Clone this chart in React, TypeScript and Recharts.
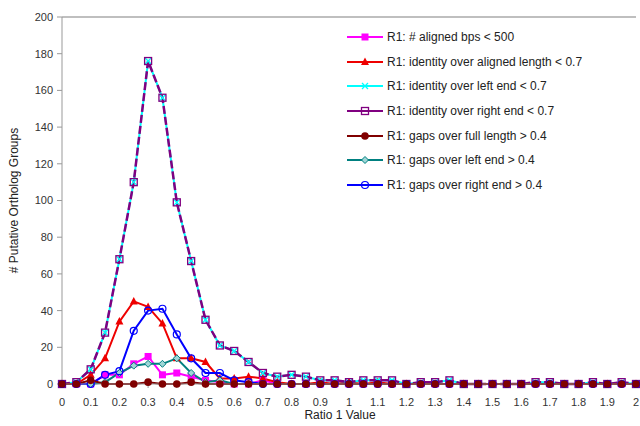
import React from "react";
import {
  LineChart,
  Line,
  XAxis,
  YAxis,
  ReferenceLine,
  Label,
} from "recharts";

// ratio bins (x) and counts per filter
const ratios = [
  0, 0.05, 0.1, 0.15, 0.2, 0.25, 0.3, 0.35, 0.4, 0.45, 0.5, 0.55, 0.6, 0.65, 0.7,
  0.75, 0.8, 0.85, 0.9, 0.95, 1, 1.05, 1.1, 1.15, 1.2, 1.25, 1.3, 1.35, 1.4, 1.45,
  1.5, 1.55, 1.6, 1.65, 1.7, 1.75, 1.8, 1.85, 1.9, 1.95, 2,
];
const alignedBps = [
  0, 0, 0, 5, 5, 11, 15, 5, 6, 4, 2, 1, 0, 0, 2, 0, 0, 0, 0, 0, 0, 0, 0, 0, 0, 0,
  0, 0, 0, 0, 0, 0, 0, 0, 0, 0, 0, 0, 0, 0, 0,
];
const identityAligned = [
  0, 0, 5, 14, 34, 45, 42, 33, 14, 14, 12, 3, 3, 4, 3, 1, 0, 0, 1, 0, 1, 0, 1, 0, 0,
  0, 0, 0, 0, 0, 0, 0, 0, 0, 0, 0, 0, 0, 0, 0, 0,
];
const identityLeft = [
  0, 1, 8, 28, 68, 110, 176, 156, 99, 67, 35, 21, 18, 12, 6, 4, 5, 4, 2, 2, 1, 2, 2,
  2, 0, 1, 1, 2, 0, 0, 0, 0, 0, 1, 1, 0, 0, 1, 0, 1, 0,
];
const identityRight = [
  0, 1, 8, 28, 68, 110, 176, 156, 99, 67, 35, 21, 18, 12, 6, 4, 5, 4, 2, 2, 1, 2, 2,
  2, 0, 1, 1, 2, 0, 0, 0, 0, 0, 1, 1, 0, 0, 1, 0, 1, 0,
];
const gapsFull = [
  0, 0, 2, 0, 0, 0, 1, 0, 0, 1, 0, 0, 0, 0, 0, 0, 0, 0, 0, 0, 0, 0, 0, 0, 0, 0, 0,
  0, 0, 0, 0, 0, 0, 0, 0, 0, 0, 0, 0, 0, 0,
];
const gapsLeft = [
  0, 0, 0, 1, 6, 10, 11, 11, 14, 6, 1, 2, 0, 0, 0, 0, 0, 0, 0, 0, 0, 0, 0, 0, 0, 0,
  0, 0, 0, 0, 0, 0, 0, 0, 0, 0, 0, 0, 0, 0, 0,
];
const gapsRight = [
  0, 0, 0, 5, 7, 29, 40, 41, 27, 14, 6, 6, 2, 1, 0, 0, 0, 0, 0, 0, 0, 0, 0, 0, 0, 0,
  0, 0, 0, 0, 0, 0, 0, 0, 0, 0, 0, 0, 0, 0, 0,
];

const xTicks = [
  0, 0.1, 0.2, 0.3, 0.4, 0.5, 0.6, 0.7, 0.8, 0.9, 1, 1.1, 1.2, 1.3, 1.4, 1.5, 1.6,
  1.7, 1.8, 1.9, 2,
];
const yTicks = [0, 20, 40, 60, 80, 100, 120, 140, 160, 180, 200];

const data = ratios.map((r, i) => ({
  ratio: r,
  bps: alignedBps[i],
  idAligned: identityAligned[i],
  idLeft: identityLeft[i],
  idRight: identityRight[i],
  gFull: gapsFull[i],
  gLeft: gapsLeft[i],
  gRight: gapsRight[i],
}));

// legend order
const series = [
  { key: "bps", name: "R1: # aligned bps < 500", color: "#ff00ff", shape: "square" },
  { key: "idAligned", name: "R1: identity over aligned length < 0.7", color: "#ee0000", shape: "triangle" },
  { key: "idLeft", name: "R1: identity over left end < 0.7", color: "#00ffff", shape: "x" },
  { key: "idRight", name: "R1: identity over right end < 0.7", color: "#800080", shape: "openSquare", dash: "8 3" },
  { key: "gFull", name: "R1: gaps over full length > 0.4", color: "#800000", shape: "circle" },
  { key: "gLeft", name: "R1: gaps over left end > 0.4", color: "#008080", shape: "diamond" },
  { key: "gRight", name: "R1: gaps over right end > 0.4", color: "#0000ff", shape: "openCircle" },
];

// drawing order (dark red dots on top)
const drawOrder = ["bps", "idAligned", "idLeft", "idRight", "gLeft", "gRight", "gFull"];

const FONT = '"Liberation Sans", Arial, sans-serif';

const Marker = ({ cx, cy, shape, color }: any) => {
  if (cx == null || cy == null) return null;
  switch (shape) {
    case "square":
      return <rect x={cx - 3.5} y={cy - 3.5} width={7} height={7} fill={color} />;
    case "openSquare":
      return (
        <rect x={cx - 3.5} y={cy - 3.5} width={7} height={7} fill="none" stroke={color} strokeWidth={1.3} />
      );
    case "triangle":
      return (
        <polygon
          points={`${cx},${cy - 4.5} ${cx + 4},${cy + 3} ${cx - 4},${cy + 3}`}
          fill={color}
        />
      );
    case "x":
      return (
        <path
          d={`M${cx - 3},${cy - 3}L${cx + 3},${cy + 3}M${cx + 3},${cy - 3}L${cx - 3},${cy + 3}`}
          stroke={color}
          strokeWidth={1.3}
        />
      );
    case "circle":
      return <circle cx={cx} cy={cy} r={3.8} fill={color} />;
    case "diamond":
      return (
        <polygon
          points={`${cx},${cy - 3.5} ${cx + 3.5},${cy} ${cx},${cy + 3.5} ${cx - 3.5},${cy}`}
          fill="#9fd6d6"
          stroke={color}
          strokeWidth={1}
        />
      );
    case "openCircle":
      return <circle cx={cx} cy={cy} r={3.5} fill="none" stroke={color} strokeWidth={1.2} />;
  }
  return null;
};

const LegendBox = () => (
  <div
    style={{
      position: "absolute",
      left: 347,
      top: 25,
      fontFamily: FONT,
      fontSize: 12,
      color: "#222",
    }}
  >
    {series.map((s) => (
      <div key={s.key} style={{ display: "flex", alignItems: "center", height: 24.6 }}>
        <svg width={36} height={12} style={{ flex: "none" }}>
          <line x1={0} y1={6} x2={36} y2={6} stroke={s.color} strokeWidth={2} />
          <Marker cx={18} cy={6} shape={s.shape} color={s.color} />
        </svg>
        <span style={{ marginLeft: 4, whiteSpace: "nowrap" }}>{s.name}</span>
      </div>
    ))}
  </div>
);

const YTitle = ({ viewBox }: any) => {
  const cx = viewBox.x + 14;
  const cy = viewBox.y + viewBox.height / 2;
  return (
    <text
      x={cx}
      y={cy}
      transform={`rotate(-90 ${cx} ${cy})`}
      textAnchor="middle"
      dominantBaseline="central"
      fontFamily={FONT}
      fontSize={12}
      fill="#222"
    >
      # Putative Ortholog Groups
    </text>
  );
};

const XTitle = ({ viewBox }: any) => (
  <text
    x={viewBox.x + viewBox.width / 2 - 9}
    y={viewBox.y + 31}
    textAnchor="middle"
    dominantBaseline="central"
    fontFamily={FONT}
    fontSize={12}
    fill="#222"
  >
    Ratio 1 Value
  </text>
);

export default function App() {
  return (
    <div style={{ position: "absolute", left: 0, top: 0, width: 640, height: 426, background: "#fff" }}>
      <LineChart
        width={640}
        height={426}
        data={data}
        margin={{ top: 17, right: 4, bottom: 0, left: 0 }}
      >
        <XAxis
          dataKey="ratio"
          type="number"
          domain={[0, 2]}
          ticks={xTicks}
          interval={0}
          tickFormatter={(v: number) => String(Number(v.toFixed(1)))}
          height={42}
          tickSize={4}
          tickMargin={10}
          stroke="#999"
          tick={{ fill: "#333", fontSize: 11, fontFamily: FONT }}
        >
          <Label content={<XTitle />} />
        </XAxis>
        <YAxis
          domain={[0, 200]}
          ticks={yTicks}
          interval={0}
          width={62}
          tickSize={5}
          tickMargin={4}
          stroke="#999"
          tick={{ fill: "#333", fontSize: 11, fontFamily: FONT }}
        >
          <Label content={<YTitle />} />
        </YAxis>
        <ReferenceLine y={200} stroke="#aaa" strokeWidth={1.5} />
        {drawOrder.map((k) => {
          const s: any = series.find((x) => x.key === k);
          return (
            <Line
              key={s.key}
              dataKey={s.key}
              name={s.name}
              stroke={s.color}
              strokeWidth={s.key === "idRight" ? 2.5 : 2}
              strokeDasharray={s.dash}
              isAnimationActive={false}
              dot={(p: any) => (
                <Marker key={`${s.key}-${p.index}`} cx={p.cx} cy={p.cy} shape={s.shape} color={s.color} />
              )}
              activeDot={false}
            />
          );
        })}
      </LineChart>
      <LegendBox />
    </div>
  );
}
